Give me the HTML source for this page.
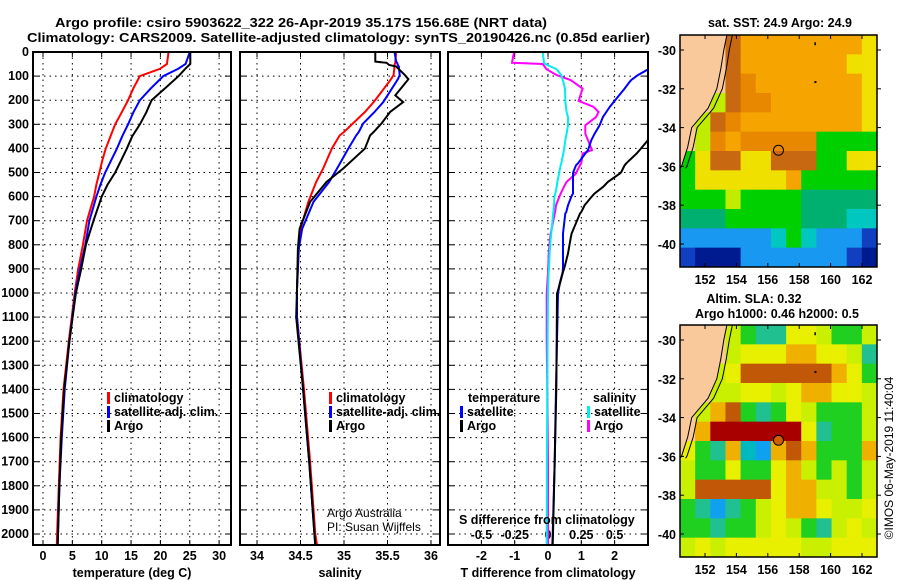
<!DOCTYPE html>
<html><head><meta charset="utf-8"><style>
html,body{margin:0;padding:0;background:#fff}
svg{display:block;font-family:"Liberation Sans",sans-serif}
.b{font-weight:bold;font-size:12.5px}
.n{font-weight:normal;font-size:12px}
</style></head><body>
<svg id="svg" width="900" height="580" viewBox="0 0 900 580" xmlns="http://www.w3.org/2000/svg">
<text class="b" x="55" y="27" textLength="492" lengthAdjust="spacingAndGlyphs">Argo profile: csiro 5903622_322 26-Apr-2019 35.17S 156.68E (NRT data)</text>
<text class="b" x="27" y="42" textLength="623" lengthAdjust="spacingAndGlyphs">Climatology: CARS2009. Satellite-adjusted climatology: synTS_20190426.nc (0.85d earlier)</text>
<g id="g"></g>
</svg>
<script>
// ---- data ----
const tDepth   = [0,50,70,100,150,200,250,300,350,400,450,500,550,600,650,700,800,900,1000,1200,1400,1600,1800,2000,2045];
const tClim    = [21.4,21.1,19.9,16.5,15.4,14.5,13.4,12.3,11.5,10.7,10.1,9.6,9.1,8.7,8.1,7.5,6.8,6.0,5.4,4.4,3.5,3.0,2.7,2.4,2.35];
const tSat     = [25.0,24.3,23.0,20.5,18.4,16.5,15.4,14.5,13.5,12.6,11.6,10.6,9.8,9.1,8.5,7.9,7.2,6.3,5.5,4.5,3.7,3.2,2.8,2.55,2.5];
const tArgo    = [25.1,25.1,24.2,23.1,20.8,18.5,17.6,16.5,15.2,14.3,13.3,12.3,11.0,10.0,9.3,8.6,7.3,6.5,5.6,4.5,3.6,3.1,2.8,2.55,2.5];
const sDepth   = [0,40,45,54,60,96,113,180,208,249,297,332,346,401,484,539,622,733,816,982,1100,1400,1700,2000,2045];
const sClim    = [35.60,35.59,35.59,35.58,35.58,35.57,35.54,35.40,35.34,35.24,35.10,35.00,34.95,34.86,34.76,34.68,34.59,34.50,34.48,34.46,34.46,34.54,34.61,34.67,34.69];
const sSat     = [35.58,35.60,35.61,35.62,35.63,35.64,35.62,35.50,35.45,35.35,35.22,35.17,35.14,35.05,34.92,34.83,34.65,34.52,34.48,34.46,34.46,34.53,34.60,34.66,34.67];
const sArgo    = [35.36,35.36,35.49,35.52,35.60,35.70,35.74,35.59,35.68,35.53,35.43,35.34,35.30,35.24,34.99,34.80,34.61,34.49,34.47,34.46,34.45,34.53,34.60,34.66,34.67];
const dDepth   = [0,45,50,72,96,116,124,152,203,227,249,270,304,339,366,407,421,462,470,498,504,539,559,587,594,601,636,664,670,753,774,836,892,913,960,1003,1200,1400,1700,2000,2045];
const dTSat    = [3.6,3.3,3.2,3.0,2.7,2.5,2.45,2.3,2.0,1.86,1.75,1.65,1.55,1.4,1.3,1.2,1.12,0.9,0.84,0.76,0.75,0.75,0.75,0.75,0.72,0.7,0.6,0.55,0.52,0.45,0.45,0.45,0.45,0.44,0.35,0.3,0.27,0.24,0.2,0.14,0.13];
const dTArgo   = [6,6,6,6,5.8,5.6,5.5,5.2,4.8,4.6,4.4,4.1,3.7,3.3,3.0,2.75,2.66,2.35,2.3,2.2,2.16,1.8,1.66,1.4,1.35,1.31,1.1,1.0,0.96,0.71,0.68,0.6,0.5,0.45,0.36,0.27,0.26,0.25,0.2,0.15,0.14];
const dSSat    = [-0.04,-0.03,-0.02,0.065,0.10,0.11,0.115,0.128,0.13,0.135,0.14,0.15,0.15,0.14,0.13,0.12,0.115,0.1,0.095,0.085,0.083,0.07,0.065,0.055,0.05,0.048,0.045,0.04,0.038,0.025,0.02,0.012,0.008,0.005,0.002,0,-0.003,-0.005,-0.008,-0.01,-0.01];
const dSArgo   = [-0.255,-0.27,-0.04,-0.01,0.065,0.17,0.19,0.26,0.23,0.34,0.38,0.36,0.28,0.28,0.30,0.33,0.26,0.25,0.24,0.215,0.21,0.14,0.12,0.095,0.09,0.085,0.06,0.053,0.05,0.02,0.015,0.005,0.002,0,-0.005,-0.01,-0.01,-0.005,0,0,0];
const tTicks = [0,5,10,15,20,25,30];
const sTicks = [34,34.5,35,35.5,36];
const sTickLabels = ["34","34.5","35","35.5","36"];
const dTTicks = [-2,-1,0,1,2];
const dSTicks = [-0.5,-0.25,0,0.25,0.5];
const dSTickLabels = ["-0.5","-0.25","0","0.25","0.5"];
const depthTicks = [0,100,200,300,400,500,600,700,800,900,1000,1100,1200,1300,1400,1500,1600,1700,1800,1900,2000];
const lonTicks = [152,154,156,158,160,162];
const latTicks = [-30,-32,-34,-36,-38,-40];
const argoLon = 156.68, argoLat = -35.17;
const sstRows = [
"LLLBOOOOOOOOY",
"LLLBOOOOOOOYY",
"LLLBDOOOOOOOY",
"LLyBDDOOOOOOY",
"LyBDOOOOOOOOY",
"LyDODDDDDGGGG",
"GYBBYYBBBGGYY",
"GYYYYYYOGGGGG",
"GGGyGGGGggggg",
"gggGGGGGgggCC",
"bbbbbbCGCbbbN",
"NnnnbbbbbbbNn"];
const slaRows = [
"LLLyGggYYyGGy",
"LLLyYYYOOYYyg",
"LLyYBBBBBBOYG",
"LLyyYYyYOOYYy",
"LyOBGgGYyGGGy",
"LORRRRRRYgGGy",
"YGgOCbOBOGGGO",
"yGGYGGYOyGyGy",
"yBBBBBYOOyyGy",
"GgbgGyYOOYyyY",
"GGgGGyYyGgyYy",
"yYyYYYYYyyYYY"];
const coastLat = [-29.2,-30,-31,-32,-33,-34,-35,-35.5,-36,-36.1];
const coastLon = [153.4,153.2,153.0,152.75,152.2,151.15,150.9,150.7,150.5,150.41];

// ---- drawing ----
const NS="http://www.w3.org/2000/svg";
const G=document.getElementById('g');
function el(t,a,p){const e=document.createElementNS(NS,t);for(const k in a)e.setAttribute(k,a[k]);(p||G).appendChild(e);return e;}
const TOP=52,BOT=545;
const yD=d=>TOP+d*0.241;
const xT=v=>43+v*5.87;
const xS=v=>257+(v-34)*87;
const xDT=v=>548+v*33.3;
const xDS=v=>548+v*133.2;
const panels=[[33,231],[240,440],[448,648]];
panels.forEach((p,i)=>{
  const r=el('rect',{x:p[0],y:TOP,width:p[1]-p[0],height:BOT-TOP,fill:'#fff',stroke:'#000','stroke-width':2});
  
  
  depthTicks.forEach(d=>{
    if(d>0){const l=el('line',{x1:p[0],x2:p[1],y1:yD(d),y2:yD(d),stroke:'#000','stroke-dasharray':'1.5,4'});
      
      }
    el('line',{x1:p[0],x2:p[0]+6,y1:yD(d),y2:yD(d),stroke:'#000'});
    el('line',{x1:p[1]-6,x2:p[1],y1:yD(d),y2:yD(d),stroke:'#000'});
  });
});
depthTicks.forEach(d=>{
  const t=el('text',{x:29,y:yD(d)+4,'text-anchor':'end',class:'b'});t.textContent=d;
  
  
});
function vgrid(xs,fx,p,labels,ly,name){
  xs.forEach((v,i)=>{
    const x=fx(v);
    const l=el('line',{x1:x,x2:x,y1:TOP,y2:BOT,stroke:'#000','stroke-dasharray':'1.5,4'});
    
    
    el('line',{x1:x,x2:x,y1:TOP,y2:TOP+5,stroke:'#000'});
    el('line',{x1:x,x2:x,y1:BOT-5,y2:BOT,stroke:'#000'});
    if(labels){const t=el('text',{x:x,y:ly,'text-anchor':'middle',class:'b'});t.textContent=labels[i];
      
      }
  });
}
vgrid(tTicks,xT,panels[0],tTicks.map(String),560,'temperature');
vgrid(sTicks,xS,panels[1],sTickLabels,560,'salinity');
vgrid(dTTicks,xDT,panels[2],dTTicks.map(String),560,'t-difference');
dSTicks.forEach((v,i)=>{const t=el('text',{x:xDS(v),y:539,'text-anchor':'middle',class:'b'});t.textContent=dSTickLabels[i];
  
  });

function clipRect(id,p){const c=el('clipPath',{id:id});el('rect',{x:p[0]+1,y:TOP+1,width:p[1]-p[0]-2,height:BOT-TOP-2},c);}
clipRect('c1',panels[0]);clipRect('c2',panels[1]);clipRect('c3',panels[2]);
function line(ds,vs,fx,color,clip,name){
  const pts=ds.map((d,i)=>fx(vs[i]).toFixed(1)+','+yD(d).toFixed(1)).join(' ');
  const e=el('polyline',{points:pts,fill:'none',stroke:color,'stroke-width':2,'clip-path':'url(#'+clip+')'});
  
  
}
line(tDepth,tClim,xT,'#f00','c1','temperature-climatology-line');
line(tDepth,tSat,xT,'#00f','c1','temperature-satellite-line');
line(tDepth,tArgo,xT,'#000','c1','temperature-argo-line');
line(sDepth,sClim,xS,'#f00','c2','salinity-climatology-line');
line(sDepth,sSat,xS,'#00f','c2','salinity-satellite-line');
line(sDepth,sArgo,xS,'#000','c2','salinity-argo-line');
line(dDepth,dSArgo,xDS,'#f0f','c3','s-diff-argo-line');
line(dDepth,dSSat,xDS,'#0ee','c3','s-diff-satellite-line');
line(dDepth,dTSat,xDT,'#00f','c3','t-diff-satellite-line');
line(dDepth,dTArgo,xDT,'#000','c3','t-diff-argo-line');

function legend(x,y,color,label,name){
  el('rect',{x:x,y:y-10,width:3,height:12,fill:color});
  const t=el('text',{x:x+7,y:y,class:'b'});t.textContent=label;
  
  
}
legend(107,402,'#f00','climatology','legend-climatology-t');
legend(107,416,'#00f','satellite-adj. clim.','legend-satellite-t');
legend(107,430,'#000','Argo','legend-argo-t');
legend(329,402,'#f00','climatology','legend-climatology-s');
legend(329,416,'#00f','satellite-adj. clim.','legend-satellite-s');
legend(329,430,'#000','Argo','legend-argo-s');
function txt(x,y,s,cls,name,extra){const t=el('text',Object.assign({x:x,y:y,class:cls},extra||{}));t.textContent=s;
  
  return t;}
txt(468,402,'temperature','b','legend-temperature-heading');
txt(593,402,'salinity','b','legend-salinity-heading');
legend(460,416,'#00f','satellite','legend-t-satellite');
legend(460,430,'#000','Argo','legend-t-argo');
legend(587,416,'#0ee','satellite','legend-s-satellite');
legend(587,430,'#f0f','Argo','legend-s-argo');
txt(459,524,'S difference from climatology','b','s-difference-axis-title');
txt(327,517,'Argo Australia','n','credit-line-1');
txt(327,531,'PI: Susan Wijffels','n','credit-line-2');
txt(132,577,'temperature (deg C)','b','temperature-axis-title',{'text-anchor':'middle'});
txt(340,577,'salinity','b','salinity-axis-title',{'text-anchor':'middle'});
txt(548,577,'T difference from climatology','b','t-difference-axis-title',{'text-anchor':'middle'});

// maps
const colSST={L:'#f9c99b',O:'#f5a400',D:'#e88800',B:'#c86810',Y:'#f0e000',y:'#c0ec00',G:'#00d000',g:'#00b070',C:'#00c8c0',b:'#1898f0',N:'#1040c0',n:'#001a90'};
const colSLA={L:'#f9c99b',Y:'#e8f000',y:'#c8f000',G:'#20d020',g:'#20c090',C:'#00b8c0',b:'#10a0f0',O:'#f0b000',B:'#c05808',R:'#a80000'};
function map(top,rows,cols,name,filled){
  const L=680,R=877,T=top,Bm=top+232;
  const lx=l=>705+(l-152)*15.7, ly=a=>top+15+(-30-a)*19.4;
  const cw=(R-L)/rows[0].length, ch=(Bm-T)/rows.length;
  const mg=el('g',{});
  
  
  rows.forEach((r,i)=>{for(let j=0;j<r.length;j++){
    const c=el('rect',{x:L+j*cw,y:T+i*ch,width:cw+0.5,height:ch+0.5,fill:cols[r[j]]},mg);
    
    }});
  const land=coastLon.map((l,i)=>lx(l).toFixed(1)+','+ly(coastLat[i]).toFixed(1)).join(' ');
  el('polygon',{points:L+','+T+' '+land+' '+L+','+ly(-36.1),fill:cols.L},mg);
  el('polyline',{points:land,fill:'none',stroke:'#000','stroke-width':1},mg);
  el('polyline',{points:coastLon.map((l,i)=>lx(l+0.35).toFixed(1)+','+ly(coastLat[i]).toFixed(1)).join(' '),fill:'none',stroke:'#000','stroke-width':1},mg);
  el('rect',{x:lx(159)-0.5,y:ly(-29.6),width:1.5,height:3,fill:'#000'},mg);
  el('rect',{x:lx(159)-0.5,y:ly(-31.6),width:2,height:2,fill:'#000'},mg);
  el('rect',{x:L,y:T,width:R-L,height:Bm-T,fill:'none',stroke:'#000','stroke-width':1.5},mg);
  lonTicks.forEach(l=>{el('line',{x1:lx(l),x2:lx(l),y1:T,y2:T+4,stroke:'#000'});el('line',{x1:lx(l),x2:lx(l),y1:Bm-4,y2:Bm,stroke:'#000'});
    txt(lx(l),Bm+17,String(l),'b','map-lon-label',{'text-anchor':'middle'});});
  latTicks.forEach(a=>{el('line',{x1:L,x2:L+4,y1:ly(a),y2:ly(a),stroke:'#000'});el('line',{x1:R,x2:R+4,y1:ly(a),y2:ly(a),stroke:'#000'});
    txt(676,ly(a)+5,String(a),'b','map-lat-label',{'text-anchor':'end'});});
  const c=el('circle',{cx:lx(argoLon),cy:ly(argoLat),r:5,fill:filled?'#d06000':'none',stroke:'#000','stroke-width':1});
  
  
}
map(35,sstRows,colSST,'sst-map',false);
map(325,slaRows,colSLA,'sla-map',true);
txt(780,27,'sat. SST: 24.9 Argo: 24.9','b','sst-map-title',{'text-anchor':'middle'});
txt(754,303,'Altim. SLA: 0.32','b','sla-map-title',{'text-anchor':'middle'});
txt(777,318,'Argo h1000: 0.46 h2000: 0.5','b','sla-map-subtitle',{'text-anchor':'middle'});
txt(0,0,'©IMOS 06-May-2019 11:40:04','n','timestamp',{'font-size':'13',transform:'translate(893,458) rotate(-90)','text-anchor':'middle'});
</script>
</body></html>
